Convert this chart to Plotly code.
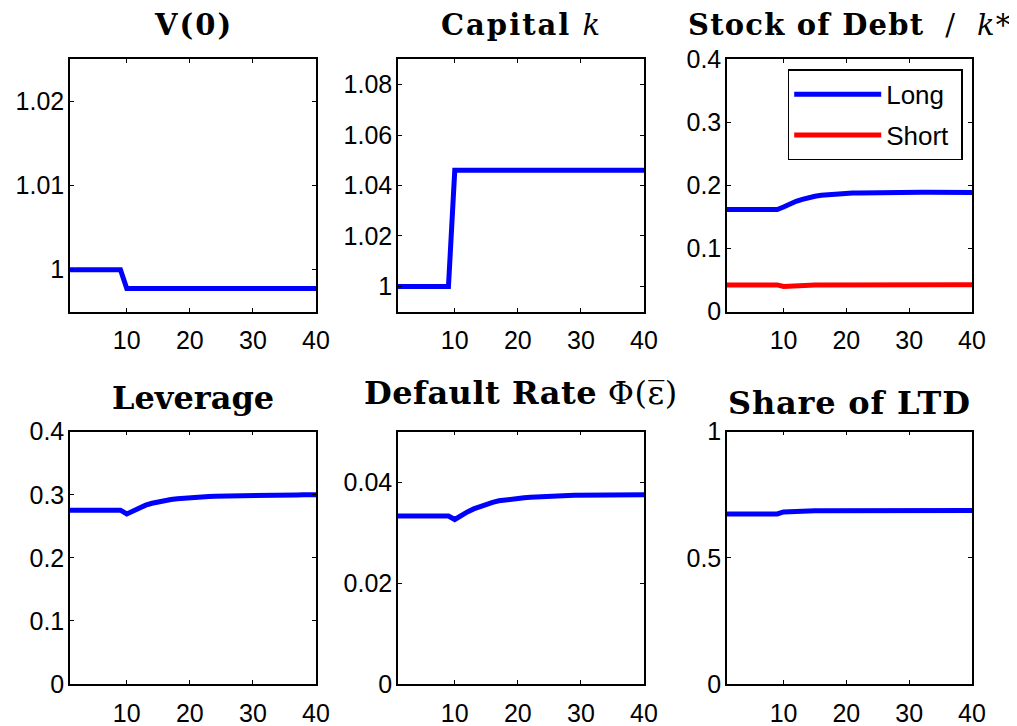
import plotly.graph_objects as go
from plotly.subplots import make_subplots

# ---------------- data ----------------
periods = list(range(1, 41))
xticks = [10, 20, 30, 40]

v0 = [1.0] * 9 + [0.99775] * 31
capital = [1.0] * 9 + [1.046] * 31

debt_long = [0.162] * 9 + [
    0.166, 0.171, 0.175, 0.178, 0.181, 0.183, 0.1845, 0.1855, 0.1865, 0.187,
    0.1875, 0.188, 0.1883, 0.1886, 0.1888, 0.189, 0.1891, 0.1892, 0.1893, 0.1894,
    0.1894, 0.1895, 0.1895, 0.1895, 0.1894, 0.1893, 0.1892, 0.1891, 0.189, 0.189,
    0.189]
debt_short = [0.0425] * 9 + [
    0.040, 0.0408, 0.0413, 0.0417, 0.042, 0.0422, 0.0424, 0.0425, 0.0426, 0.0426,
    0.0427, 0.0427, 0.0427, 0.0428, 0.0428, 0.0428, 0.0428, 0.0428, 0.0429, 0.0429,
    0.0429, 0.0429, 0.0429, 0.0429, 0.0429, 0.0429, 0.0429, 0.0429, 0.0429, 0.0429,
    0.0429]

leverage = [0.2755] * 9 + [
    0.2695, 0.2745, 0.2795, 0.2835, 0.2865, 0.289, 0.291, 0.2925, 0.2938, 0.2948,
    0.2956, 0.2963, 0.2969, 0.2974, 0.2978, 0.2981, 0.2984, 0.2986, 0.2988, 0.299,
    0.2991, 0.2992, 0.2993, 0.2994, 0.2995, 0.2996, 0.2997, 0.2998, 0.2999, 0.3,
    0.3]

default_rate = [0.0333] * 9 + [
    0.0326, 0.0334, 0.0341, 0.0347, 0.0352, 0.0357, 0.036, 0.0363, 0.0365, 0.0367,
    0.0368, 0.0369, 0.037, 0.0371, 0.0372, 0.03725, 0.0373, 0.03733, 0.03736, 0.0374,
    0.0374, 0.0374, 0.03742, 0.03744, 0.03745, 0.03746, 0.03747, 0.03748, 0.03749, 0.0375,
    0.0375]

share_ltd = [0.674] * 9 + [
    0.682, 0.684, 0.685, 0.686, 0.6865, 0.687, 0.687, 0.6872, 0.6874, 0.6875,
    0.6876, 0.6877, 0.6878, 0.6878, 0.6879, 0.6879, 0.688, 0.688, 0.688, 0.688,
    0.688, 0.688, 0.688, 0.688, 0.688, 0.688, 0.688, 0.688, 0.688, 0.688,
    0.688]

titles = [
    "<b>V(0)</b>",
    "<b>Capital</b> <i>k</i>",
    "<b>Stock of Debt</b>  /  <i>k</i>*",
    "<b>Leverage</b>",
    "<b>Default Rate</b> Φ(ε\u0305)",
    "<b>Share of LTD</b>",
]
legend_names = ["Long\u00a0", "Short\u00a0"]

y_ranges = [[0.995, 1.025], [0.99, 1.09], [0, 0.4], [0, 0.4], [0, 0.05], [0, 1]]
y_tickvals = [[1, 1.01, 1.02], [1, 1.02, 1.04, 1.06, 1.08],
              [0, 0.1, 0.2, 0.3, 0.4], [0, 0.1, 0.2, 0.3, 0.4],
              [0, 0.02, 0.04], [0, 0.5, 1]]
y_ticktext = [["1", "1.01", "1.02"], ["1", "1.02", "1.04", "1.06", "1.08"],
              ["0", "0.1", "0.2", "0.3", "0.4"], ["0", "0.1", "0.2", "0.3", "0.4"],
              ["0", "0.02", "0.04"], ["0", "0.5", "1"]]

# ---------------- layout geometry (pixels, page coords) ----------------
OFF = 8                      # page body margin
W, H = 1017 - OFF, 726 - OFF
col_px = [(70, 316), (398, 644), (727, 972)]
row_px = [(59.3, 311.7), (431.7, 684)]
title_baseline = [35.5, 35.5, 35.5, 410, 405, 415]
title_size = [29, 29, 29, 32, 32, 32]
title_spacing = [2, 2, 1.2, 0, 0.5, 0.8]


def px_x(p):
    return (p - OFF) / W


def px_y(p):
    return 1 - (p - OFF) / H


BLUE = "#0000FF"
RED = "#FF0000"
LW = 5

fig = make_subplots(rows=2, cols=3)

series = [
    [(v0, BLUE, None)],
    [(capital, BLUE, None)],
    [(debt_long, BLUE, legend_names[0]), (debt_short, RED, legend_names[1])],
    [(leverage, BLUE, None)],
    [(default_rate, BLUE, None)],
    [(share_ltd, BLUE, None)],
]

for i, panel in enumerate(series):
    r, c = i // 3 + 1, i % 3 + 1
    for vals, colr, name in panel:
        fig.add_trace(
            go.Scatter(x=periods, y=vals, mode="lines",
                       line=dict(color=colr, width=LW),
                       name=name if name else "series",
                       showlegend=name is not None,
                       legendgroup=name if name else None,
                       hoverinfo="skip"),
            row=r, col=c)

tick_font = dict(family="Liberation Sans, Arial, sans-serif", size=25, color="black")

for i in range(6):
    r, c = i // 3, i % 3
    x0, x1 = col_px[c]
    t0, t1 = row_px[r]
    xd = [px_x(x0), px_x(x1)]
    yd = [px_y(t1), px_y(t0)]
    ax = "" if i == 0 else str(i + 1)
    fig.layout["xaxis" + ax].update(
        domain=xd, range=[1, 40], tickvals=xticks, ticktext=[str(v) for v in xticks],
        showline=True, linecolor="black", linewidth=1.5, mirror="ticks",
        ticks="inside", ticklen=4, tickcolor="black", tickwidth=1,
        showgrid=False, zeroline=False, tickfont=tick_font,
        ticklabelstandoff=6, automargin=False)
    fig.layout["yaxis" + ax].update(
        domain=yd, range=y_ranges[i], tickvals=y_tickvals[i], ticktext=y_ticktext[i],
        showline=True, linecolor="black", linewidth=1.5, mirror="ticks",
        ticks="inside", ticklen=4, tickcolor="black", tickwidth=1,
        showgrid=False, zeroline=False, tickfont=tick_font,
        ticklabelstandoff=-1, automargin=False)
    txt = titles[i]
    if title_spacing[i]:
        txt = "<span style='letter-spacing:%spx'>%s</span>" % (title_spacing[i], txt)
    fig.add_annotation(
        text=txt, xref="paper", yref="paper",
        x=(xd[0] + xd[1]) / 2, y=px_y(title_baseline[i]),
        xanchor="center", yanchor="bottom", yshift=-9, showarrow=False,
        font=dict(family="DejaVu Serif, serif", size=title_size[i], color="black"))

fig.update_layout(
    width=W, height=H,
    margin=dict(l=0, r=0, t=0, b=0, autoexpand=False),
    paper_bgcolor="white", plot_bgcolor="white",
    showlegend=True,
    legend=dict(x=px_x(962.7), y=px_y(69.3), xanchor="right", yanchor="top",
                bgcolor="white", bordercolor="black", borderwidth=1.5,
                font=dict(family="Liberation Sans, Arial, sans-serif", size=26, color="black"),
                itemwidth=87, tracegroupgap=4),
)

fig.write_html("out.html")
